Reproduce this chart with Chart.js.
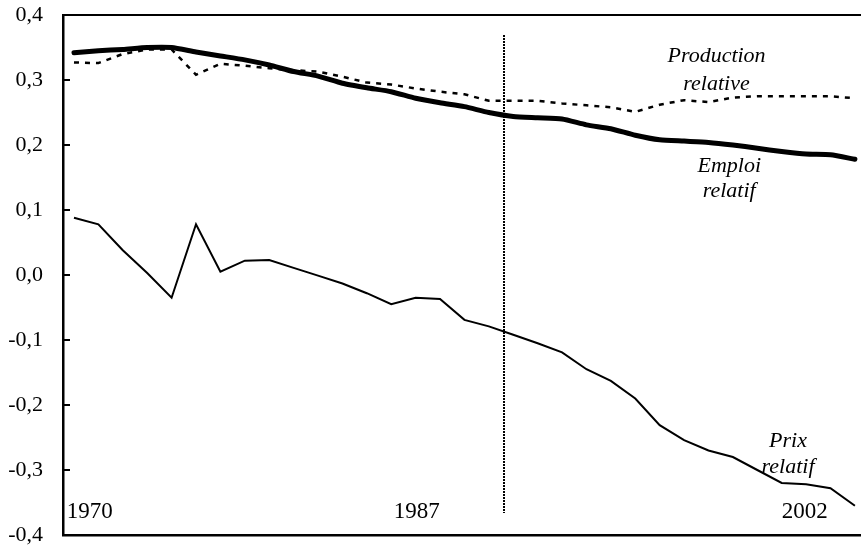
<!DOCTYPE html>
<html>
<head>
<meta charset="utf-8">
<script src="https://cdn.jsdelivr.net/npm/chart.js@4.4.1/dist/chart.umd.min.js"></script>
<style>
    html, body { margin: 0; padding: 0; background: #fff; }
    #wrap { width: 861px; height: 545px; }
</style>
</head>
<body>
<div id="wrap"><canvas id="chart" width="861" height="545"></canvas></div>
<script>
// Years 1970 -> 2002
const years = [1970, 1971, 1972, 1973, 1974, 1975, 1976, 1977, 1978, 1979, 1980,
    1981, 1982, 1983, 1984, 1985, 1986, 1987, 1988, 1989, 1990,
    1991, 1992, 1993, 1994, 1995, 1996, 1997, 1998, 1999, 2000, 2001, 2002];

// Emploi relatif (thick line)
const emploiRelatif = [0.342, 0.345, 0.347, 0.350, 0.350, 0.343, 0.337, 0.331, 0.323, 0.313, 0.306,
    0.295, 0.288, 0.282, 0.272, 0.265, 0.259, 0.250, 0.244, 0.242, 0.240,
    0.231, 0.225, 0.215, 0.208, 0.206, 0.204, 0.200, 0.195, 0.190, 0.186, 0.185, 0.178];

// Production relative (dashed line)
const productionRelative = [0.327, 0.326, 0.340, 0.347, 0.347, 0.308, 0.325, 0.322, 0.318, 0.315, 0.313,
    0.305, 0.296, 0.293, 0.287, 0.282, 0.278, 0.268, 0.268, 0.268, 0.264,
    0.261, 0.258, 0.251, 0.262, 0.269, 0.266, 0.273, 0.275, 0.275, 0.275, 0.275, 0.272];

// Prix relatif (thin line)
const prixRelatif = [0.088, 0.078, 0.038, 0.003, -0.035, 0.078, 0.005, 0.022, 0.023, 0.011, -0.001,
    -0.013, -0.028, -0.045, -0.035, -0.037, -0.069, -0.079, -0.092, -0.105, -0.119,
    -0.145, -0.163, -0.190, -0.231, -0.254, -0.270, -0.280, -0.300, -0.320, -0.322, -0.328, -0.355];

// Axis tick labels
const yTicks = [-0.4, -0.3, -0.2, -0.1, 0.0, 0.1, 0.2, 0.3, 0.4];
const yearLabels = ['1970', '1987', '2002'];

// Marker year for the vertical dotted line
const markerYear = 1987.62;

const serif = "'Liberation Serif', 'Times New Roman', serif";

const fmtComma = (v) => {
    if (Math.abs(v) < 1e-9) return '0,0';
    return v.toFixed(1).replace('.', ',');
};

// Text placement (in data units), kept apart from the data above
const yearLabelPlaces = [
    { x: 1970.65, y: -0.374 },
    { x: 1984.05, y: -0.374 },
    { x: 1999.95, y: -0.374 }
];
const seriesNotes = [
    { lines: ['Production', 'relative'], x: 1996.33, y: [0.327, 0.284] },
    { lines: ['Emploi', 'relatif'], x: 1996.85, y: [0.158, 0.120] },
    { lines: ['Prix', 'relatif'], x: 1999.26, y: [-0.265, -0.305] }
];

const decorPlugin = {
    id: 'decor',
    afterDraw(chart) {
        const { ctx, chartArea, scales } = chart;
        const x = scales.x, y = scales.y;
        ctx.save();

        // top frame line
        ctx.strokeStyle = '#000';
        ctx.lineWidth = 2;
        ctx.beginPath();
        ctx.moveTo(chartArea.left, chartArea.top);
        ctx.lineTo(chartArea.right, chartArea.top);
        ctx.stroke();

        // inward ticks on y axis
        yTicks.forEach(t => {
            const py = Math.round(y.getPixelForValue(t));
            ctx.beginPath();
            ctx.moveTo(chartArea.left, py);
            ctx.lineTo(chartArea.left + 7, py);
            ctx.stroke();
        });

        // vertical dotted line
        const mx = Math.round(x.getPixelForValue(markerYear));
        ctx.lineWidth = 2;
        ctx.setLineDash([2, 1]);
        ctx.beginPath();
        ctx.moveTo(mx, Math.round(y.getPixelForValue(0.369)));
        ctx.lineTo(mx, Math.round(y.getPixelForValue(-0.366)));
        ctx.stroke();
        ctx.setLineDash([]);

        // year labels inside the plot
        ctx.fillStyle = '#000';
        ctx.font = '23px ' + serif;
        ctx.textAlign = 'center';
        ctx.textBaseline = 'alphabetic';
        yearLabels.forEach((lab, i) => {
            const p = yearLabelPlaces[i];
            ctx.fillText(lab, x.getPixelForValue(p.x), y.getPixelForValue(p.y));
        });

        // series notes
        ctx.font = 'italic 22px ' + serif;
        seriesNotes.forEach(n => {
            n.lines.forEach((line, j) => {
                ctx.fillText(line, x.getPixelForValue(n.x), y.getPixelForValue(n.y[j]));
            });
        });

        ctx.restore();
    }
};

const ctx = document.getElementById('chart').getContext('2d');
new Chart(ctx, {
    type: 'line',
    data: {
        labels: years,
        datasets: [
            {
                label: 'Prix relatif',
                data: years.map((yr, i) => ({ x: yr, y: prixRelatif[i] })),
                borderColor: '#000',
                borderWidth: 2,
                pointRadius: 0,
                tension: 0
            },
            {
                label: 'Production relative',
                data: years.map((yr, i) => ({ x: yr, y: productionRelative[i] })),
                borderColor: '#000',
                borderWidth: 2.5,
                borderDash: [5, 6],
                pointRadius: 0,
                tension: 0
            },
            {
                label: 'Emploi relatif',
                data: years.map((yr, i) => ({ x: yr, y: emploiRelatif[i] })),
                borderColor: '#000',
                borderWidth: 5,
                borderCapStyle: 'round',
                borderJoinStyle: 'round',
                pointRadius: 0,
                tension: 0.2
            }
        ]
    },
    options: {
        responsive: false,
        animation: false,
        devicePixelRatio: 1,
        layout: { padding: { top: 15, right: 0, bottom: 0, left: 0 } },
        plugins: {
            legend: { display: false },
            tooltip: { enabled: false }
        },
        scales: {
            x: {
                type: 'linear',
                min: 1969.55,
                max: 2002.25,
                grid: { display: false, drawTicks: false },
                border: { display: true, color: '#000', width: 2.5 },
                ticks: { display: false },
                afterFit: (scale) => {
                    scale.height = 10;
                    scale.paddingLeft = 0;
                    scale.paddingRight = 0;
                }
            },
            y: {
                min: -0.4,
                max: 0.4,
                grid: { display: false, drawTicks: false },
                border: { display: true, color: '#000', width: 2.5 },
                afterBuildTicks: (scale) => {
                    scale.ticks = yTicks.map(v => ({ value: v }));
                },
                ticks: {
                    color: '#000',
                    padding: 20,
                    font: { family: serif, size: 22 },
                    callback: (v) => fmtComma(v)
                },
                afterFit: (scale) => {
                    scale.width = 63;
                    scale.paddingTop = 0;
                    scale.paddingBottom = 0;
                }
            }
        }
    },
    plugins: [decorPlugin]
});
</script>
</body>
</html>
